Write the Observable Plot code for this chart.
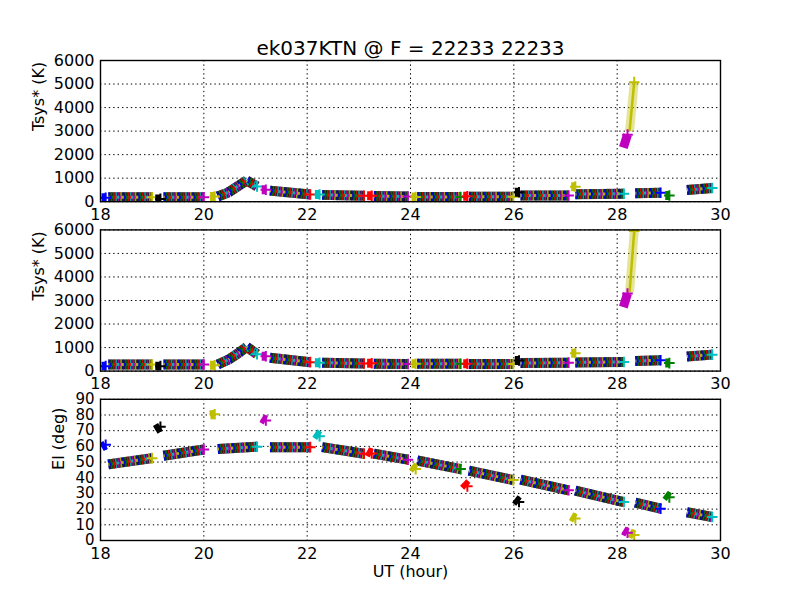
<!DOCTYPE html>
<html>
<head>
<meta charset="utf-8">
<script src="https://cdn.jsdelivr.net/npm/d3@7"></script>
<script src="https://cdn.jsdelivr.net/npm/@observablehq/plot@0.6"></script>
<style>
  html, body { margin: 0; padding: 0; background: #fff; }
  #wrap { position: relative; width: 800px; height: 600px; background: #fff; overflow: hidden; }
  #wrap svg { position: absolute; left: 0; }
</style>
</head>
<body>
<div id="wrap"></div>
<script>
// ---- data ----
const title = "ek037KTN @ F = 22233 22233";
const xTicks = [18, 20, 22, 24, 26, 28, 30];
const tsysTicks = [0, 1000, 2000, 3000, 4000, 5000, 6000];
const elTicks = [0, 10, 20, 30, 40, 50, 60, 70, 80, 90];

const palette = {b: "#0000ff", g: "#008000", r: "#ff0000", c: "#00bfbf", m: "#bf00bf", y: "#bfbf00", k: "#000000"};
const antennaCycle = ["b", "g", "r", "c", "m", "y"];

// multi-antenna scans
const bandStart = [18.15, 19.22, 20.27, 21.28, 22.29, 23.29, 24.13, 25.13, 26.13, 27.19, 28.35, 29.35];
const bandEnd   = [19.00, 20.00, 21.03, 22.06, 23.10, 23.95, 24.97, 25.99, 27.06, 28.13, 28.84, 29.84];
const bandElStart = [48.5, 54.0, 58.3, 59.5, 59.5, 55.4, 51.0, 44.5, 38.8, 31.8, 24.2, 18.0];
const bandElEnd   = [52.5, 58.0, 59.8, 59.5, 55.3, 51.5, 45.5, 38.5, 32.0, 24.5, 20.3, 15.0];
const bandTsys1Start = [190, 190, 220, 470, 290, 240, 200, 210, 260, 320, 360, 500];
const bandTsys1End   = [190, 190, 650, 306, 250, 220, 200, 210, 260, 340, 380, 580];
const bandTsys2Start = [280, 280, 280, 565, 360, 310, 310, 300, 340, 370, 430, 620];
const bandTsys2End   = [280, 280, 720, 380, 320, 300, 310, 300, 360, 390, 460, 700];
const bandEndColor = ["y", "m", "c", "r", "r", "m", "g", "y", "m", "c", "b", "c"];
// the scan with the Tsys bump (third scan)
const peakBand = 2;
const peakTimes = [20.27, 20.48, 20.68, 20.83, 21.03];
const peakTsys1 = [220, 400, 690, 900, 650];
const peakTsys2 = [280, 490, 780, 1030, 720];

// single-antenna scans
const singleColor = ["b", "k", "y", "m", "c", "r", "y", "r", "k", "y", "m", "y", "g"];
const singleStart = [18.02, 19.06, 20.12, 21.12, 22.15, 23.16, 24.02, 25.02, 26.02, 27.11, 28.12, 28.24, 28.93];
const singleEnd   = [18.10, 19.16, 20.21, 21.20, 22.24, 23.25, 24.10, 25.10, 26.10, 27.19, 28.20, 28.33, 29.01];
const singleElStart = [59.5, 70.5, 80.0, 78.0, 68.5, 57.0, 47.5, 37.0, 26.5, 15.5, 6.5, 5.0, 29.5];
const singleElEnd   = [61.0, 72.5, 80.5, 76.5, 66.5, 55.5, 45.5, 34.5, 24.5, 14.0, 5.0, 3.5, 27.5];
const singleTsys1Start = [165, 120, 220, 505, 306, 250, 200, 230, 400, 640, 2300, 3000, 260];
const singleTsys1End   = [165, 120, 220, 505, 306, 250, 200, 230, 400, 640, 2850, 5080, 260];
const singleTsys2Start = [210, 210, 250, 630, 350, 330, 310, 310, 450, 760, 2720, 3350, 340];
const singleTsys2End   = [210, 210, 250, 630, 350, 330, 310, 310, 450, 760, 3300, 5950, 340];

// ---- build segment tables (one row per straight piece) ----
function bandSegs(startV, endV, peakV) {
  const segs = [];
  bandStart.forEach((t0, i) => {
    if (peakV && i === peakBand) {
      for (let j = 0; j < peakTimes.length - 1; j++)
        segs.push({x1: peakTimes[j], y1: peakV[j], x2: peakTimes[j + 1], y2: peakV[j + 1]});
    } else {
      segs.push({x1: t0, y1: startV[i], x2: bandEnd[i], y2: endV[i]});
    }
  });
  return segs;
}
function bandEnds(endV, peakV) {
  return bandEnd.map((t, i) => {
    const pk = peakV && i === peakBand;
    return {t: pk ? peakTimes[peakTimes.length - 1] : t, v: pk ? peakV[peakV.length - 1] : endV[i],
      color: palette[bandEndColor[i]]};
  });
}
function singleSegs(startV, endV) {
  return singleStart.map((t0, i) => ({x1: t0, y1: startV[i], x2: singleEnd[i], y2: endV[i],
    color: palette[singleColor[i]], tall: Math.abs(endV[i] - startV[i]) > 1000}));
}
function singleEnds(endV) {
  return singleEnd.map((t, i) => ({t, v: endV[i], color: palette[singleColor[i]]}));
}

function dataMarks(bSegs, bEnds, sSegs, sEnds) {
  const common = {x1: "x1", y1: "y1", x2: "x2", y2: "y2", strokeLinecap: "butt", clip: true};
  const marks = [];
  // bands: dark base with coloured speckles (many overlapping antennas)
  marks.push(Plot.link(bSegs, {...common, stroke: "#1c1c1c", strokeWidth: 10}));
  antennaCycle.forEach((c, i) => {
    marks.push(Plot.link(bSegs, {...common, stroke: palette[c], strokeWidth: 10,
      strokeDasharray: "1.6 12.8", strokeDashoffset: -i * 2.4, strokeOpacity: 0.8}));
  });
  antennaCycle.forEach((c, i) => {
    marks.push(Plot.link(bSegs, {...common, stroke: palette[c], strokeWidth: 3,
      strokeDasharray: "2.4 12", strokeDashoffset: -i * 2.4 - 1.2, strokeOpacity: 0.9}));
  });
  marks.push(Plot.dot(bEnds, {x: "t", y: "v", symbol: "plus", r: 3.5, stroke: "color", strokeWidth: 2, clip: true}));
  // single-antenna scans
  marks.push(Plot.link(sSegs.filter(d => !d.tall), {...common, stroke: "color", strokeWidth: 9}));
  marks.push(Plot.link(sSegs.filter(d => d.tall), {...common, stroke: "color", strokeWidth: 9, strokeOpacity: 0.4}));
  marks.push(Plot.link(sSegs.filter(d => d.tall), {...common, stroke: "color", strokeWidth: 2.5}));
  marks.push(Plot.dot(sEnds, {x: "t", y: "v", symbol: "plus", r: 3.5, stroke: "color", strokeWidth: 2, clip: true}));
  return marks;
}

const FONT = "DejaVu Sans, sans-serif";
function panel({top, height, marginTop, marginBottom, yDomain, yTicks, yTickSize, yLabel, yLabelDx, marks, extra}) {
  const svg = Plot.plot({
    width: 800, height, marginLeft: 100, marginRight: 80, marginTop, marginBottom,
    style: {fontFamily: FONT, fontSize: "16px", background: "transparent", color: "black", overflow: "visible"},
    x: {domain: [18, 30]},
    y: {domain: yDomain},
    color: {type: "identity"},
    marks: [
      Plot.gridX(xTicks, {stroke: "black", strokeOpacity: 1, strokeWidth: 1, strokeDasharray: "1.4 3"}),
      Plot.gridY(yTicks, {stroke: "black", strokeOpacity: 1, strokeWidth: 1, strokeDasharray: "1.4 3"}),
      ...marks,
      Plot.axisX(xTicks, {tickSize: 0, tickPadding: 7, fontSize: 16, label: null, tickFormat: d3.format("d")}),
      Plot.axisY(yTicks, {tickSize: 0, tickPadding: 6, fontSize: yTickSize || 16, label: null, tickFormat: d3.format("d")}),
      Plot.text([yLabel], {frameAnchor: "left", dx: yLabelDx, rotate: -90, fontSize: 16, fill: "black"}),
      ...(extra || []),
      Plot.frame({stroke: "black", strokeWidth: 1.4})
    ]
  });
  svg.style.top = top + "px";
  document.getElementById("wrap").appendChild(svg);
}

const ph = 141.2;
panel({top: 0, height: 60 + ph + 28.8, marginTop: 60, marginBottom: 28.8,
  yDomain: [0, 6000], yTicks: tsysTicks, yLabel: "Tsys* (K)", yLabelDx: -62,
  marks: dataMarks(bandSegs(bandTsys1Start, bandTsys1End, peakTsys1), bandEnds(bandTsys1End, peakTsys1),
    singleSegs(singleTsys1Start, singleTsys1End), singleEnds(singleTsys1End)),
  extra: [Plot.text([title], {frameAnchor: "top", dy: -6, lineAnchor: "bottom", fontSize: 20, fill: "black"})]
});
panel({top: 200, height: 29.4 + ph + 29.4, marginTop: 29.4, marginBottom: 29.4,
  yDomain: [0, 6000], yTicks: tsysTicks, yLabel: "Tsys* (K)", yLabelDx: -62,
  marks: dataMarks(bandSegs(bandTsys2Start, bandTsys2End, peakTsys2), bandEnds(bandTsys2End, peakTsys2),
    singleSegs(singleTsys2Start, singleTsys2End), singleEnds(singleTsys2End))
});
panel({top: 370, height: 28.8 + ph + 60, marginTop: 28.8, marginBottom: 60,
  yDomain: [0, 90], yTicks: elTicks, yTickSize: 15, yLabel: "El (deg)", yLabelDx: -42,
  marks: dataMarks(bandSegs(bandElStart, bandElEnd, null), bandEnds(bandElEnd, null),
    singleSegs(singleElStart, singleElEnd), singleEnds(singleElEnd)),
  extra: [Plot.text(["UT (hour)"], {frameAnchor: "bottom", dy: 25, lineAnchor: "top", fontSize: 16, fill: "black"})]
});
</script>
</body>
</html>
